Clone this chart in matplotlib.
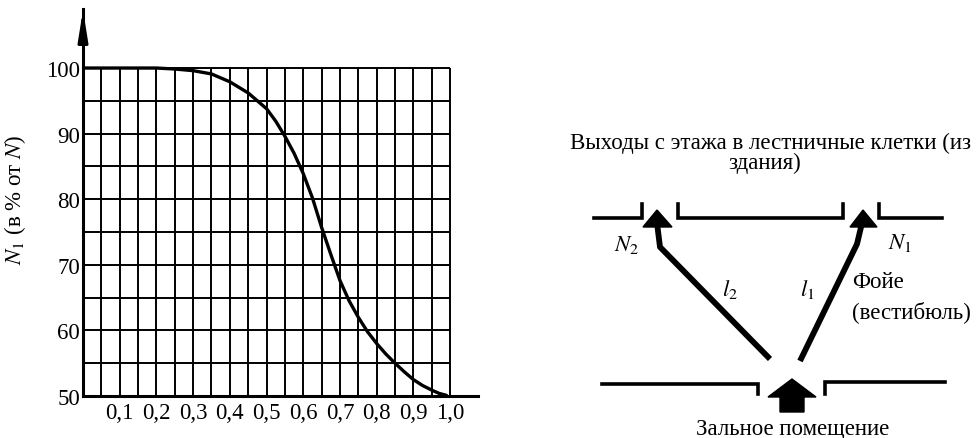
import matplotlib
matplotlib.use("Agg")
import matplotlib.pyplot as plt
from matplotlib.patches import Polygon
import numpy as np

plt.rcParams['font.family'] = ['Liberation Serif', 'DejaVu Serif']
plt.rcParams['mathtext.fontset'] = 'stix'

# ---- data (curve) ----
share_x = [0.0, 0.1, 0.2, 0.25, 0.3, 0.35, 0.4, 0.45, 0.5, 0.525, 0.55, 0.575, 0.6,
           0.625, 0.65, 0.675, 0.7, 0.725, 0.75, 0.775, 0.8, 0.825, 0.85, 0.875,
           0.9, 0.925, 0.95, 0.97, 0.99]
n1_pct = [100, 100, 100, 99.85, 99.6, 99.1, 97.9, 96.2, 93.8, 91.9, 89.6, 87.0, 83.9,
          80.2, 75.7, 71.6, 67.6, 64.5, 62.0, 59.8, 58.0, 56.4, 55.0, 53.7,
          52.5, 51.6, 50.9, 50.4, 50.1]
x_ticks = [0.1, 0.2, 0.3, 0.4, 0.5, 0.6, 0.7, 0.8, 0.9, 1.0]
x_tick_labels = ["0,1", "0,2", "0,3", "0,4", "0,5", "0,6", "0,7", "0,8", "0,9", "1,0"]
y_ticks = [50, 60, 70, 80, 90, 100]
y_tick_labels = ["50", "60", "70", "80", "90", "100"]
ylabel_text = r"$N_1$ (в % от $N$)"

# ---- diagram texts ----
title_lines = ["Выходы с этажа в лестничные клетки (из", "здания)"]
hall_label = "Зальное помещение"
foyer_lines = ["Фойе", "(вестибюль)"]
label_n1, label_n2 = r"$N_1$", r"$N_2$"
label_l1, label_l2 = r"$l_1$", r"$l_2$"

W, H = 976, 439
fig = plt.figure(figsize=(W / 100, H / 100), dpi=100)

# ---- left chart ----
x0, x1 = 83, 478
y_bot, y_top = 397, 10
ax = fig.add_axes([x0 / W, (H - y_bot) / H, (x1 - x0) / W, (y_bot - y_top) / H])
ax.set_xlim(0, 1.076)
ax.set_ylim(50, 109)

grid_x = np.arange(1, 21) * 0.05
grid_y = np.arange(55, 101, 5)
ax.vlines(grid_x, 50, 100, color='black', lw=1.4, zorder=1)
ax.hlines(grid_y, 0, 1.0, color='black', lw=1.4, zorder=1)
ax.plot(share_x, n1_pct, color='black', lw=2.4, zorder=3,
        solid_capstyle='round', solid_joinstyle='round')

for s in ['top', 'right']:
    ax.spines[s].set_visible(False)
ax.spines['left'].set_linewidth(2.2)
ax.spines['bottom'].set_linewidth(2.2)
ax.annotate('', xy=(0, 109.3), xytext=(0, 104),
            arrowprops=dict(arrowstyle='-|>,head_length=1.0,head_width=0.16',
                            color='black', lw=2.2, mutation_scale=18),
            annotation_clip=False)

fs = 16.5
ax.set_xticks(x_ticks)
ax.set_xticklabels(x_tick_labels, fontsize=fs)
ax.set_yticks(y_ticks)
ax.set_yticklabels(y_tick_labels, fontsize=fs)
ax.tick_params(axis='both', length=0)
ax.tick_params(axis='y', pad=2)
ax.tick_params(axis='x', pad=4)
ax.set_ylabel(ylabel_text, fontsize=fs)
ax.yaxis.set_label_coords(-0.14, 0.51)
ax.set_facecolor('none')

# ---- right diagram (pixel space, y down) ----
d = fig.add_axes([0, 0, 1, 1])
d.set_xlim(0, W)
d.set_ylim(H, 0)
d.axis('off')
d.set_zorder(-1)

wall_lw = 2.6
top_walls = [
    [(594, 219), (642, 219), (642, 205)],
    [(678, 205), (678, 219), (843, 219), (843, 205)],
    [(879, 205), (879, 219), (942, 219)],
]
bottom_walls = [
    [(602, 385), (758, 385), (758, 395)],
    [(825, 395), (825, 383), (945, 383)],
]
for seg in top_walls + bottom_walls:
    xs, ys = zip(*seg)
    d.plot(xs, ys, color='black', lw=wall_lw, solid_joinstyle='miter')

shaft_lw = 4.2
left_path = [(770, 360), (660, 248), (657, 224)]
right_path = [(800, 362), (857, 245), (862, 224)]
for p in (left_path, right_path):
    xs, ys = zip(*p)
    d.plot(xs, ys, color='black', lw=shaft_lw, solid_capstyle='butt', solid_joinstyle='round')

heads = [
    [(657, 211), (643, 228), (672, 228)],
    [(863, 211), (850, 228), (877, 228)],
]
for h in heads:
    d.add_patch(Polygon(h, closed=True, color='black'))

big_arrow = [(792, 380), (768, 398), (780, 398), (780, 413), (804, 413), (804, 398), (816, 398)]
d.add_patch(Polygon(big_arrow, closed=True, color='black'))

d.text(770, 143, title_lines[0], ha='center', va='center', fontsize=fs)
d.text(765, 163, title_lines[1], ha='center', va='center', fontsize=fs)
d.text(627, 245, label_n2, ha='center', va='center', fontsize=fs)
d.text(900, 243, label_n1, ha='center', va='center', fontsize=fs)
d.text(730, 290, label_l2, ha='center', va='center', fontsize=fs)
d.text(807, 290, label_l1, ha='center', va='center', fontsize=fs)
d.text(852, 283, foyer_lines[0], ha='left', va='center', fontsize=fs)
d.text(852, 312, foyer_lines[1], ha='left', va='center', fontsize=fs)
d.text(793, 430, hall_label, ha='center', va='center', fontsize=fs)

fig.savefig("out.png", dpi=100, facecolor='white')
